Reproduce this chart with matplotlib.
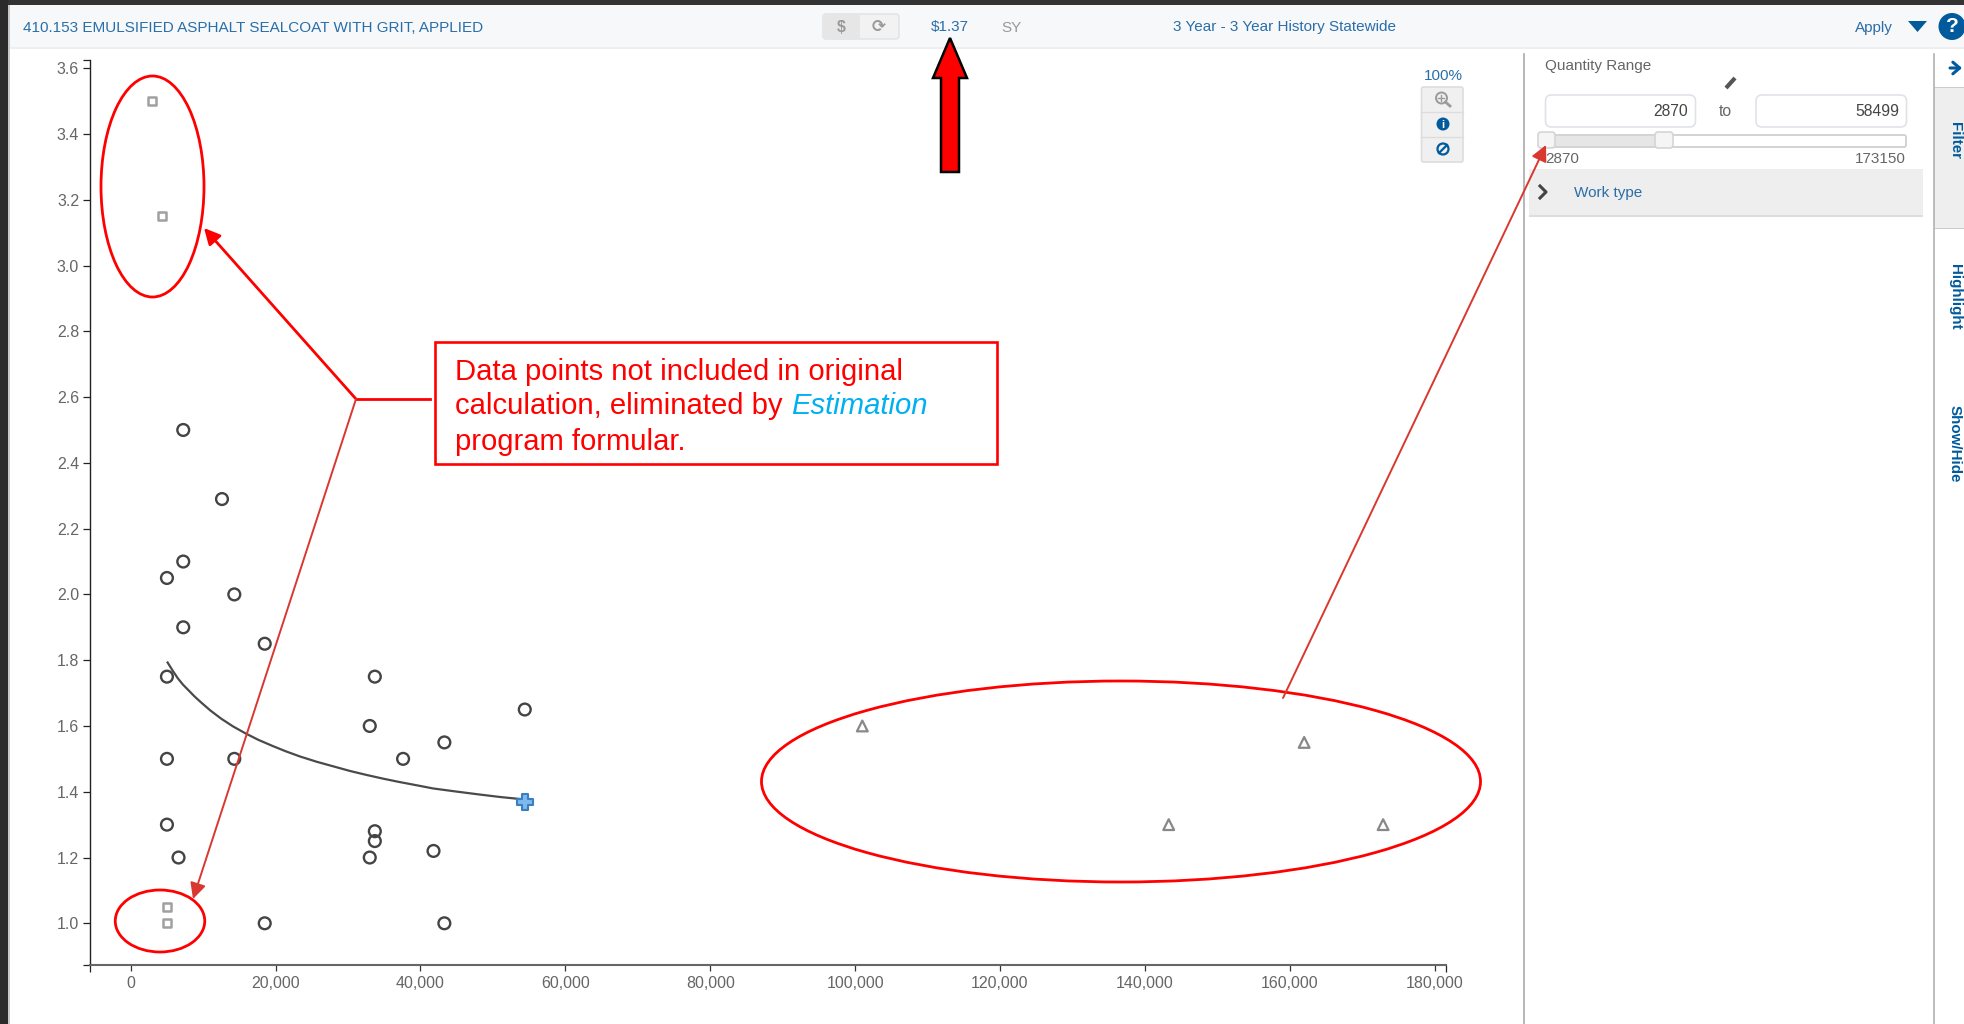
import matplotlib
matplotlib.use("Agg")
import matplotlib.pyplot as plt
from matplotlib.patches import Rectangle, FancyBboxPatch, Ellipse, Circle, Polygon, FancyArrowPatch

plt.rcParams['font.family'] = ['Liberation Sans', 'DejaVu Sans']

# ---------- data ----------
included_x = [7250, 12600, 7250, 5000, 14300, 7250, 18500, 5000, 33700, 33000, 54400, 43300,
              37600, 5000, 14300, 5000, 33700, 33700, 33000, 41800, 6600, 18500, 43300]
included_y = [2.5, 2.29, 2.1, 2.05, 2.0, 1.9, 1.85, 1.75, 1.75, 1.6, 1.65, 1.55,
              1.5, 1.5, 1.5, 1.3, 1.28, 1.25, 1.2, 1.22, 1.2, 1.0, 1.0]
low_qty_x = [2900, 4300, 5000, 5000]
low_qty_y = [3.5, 3.15, 1.05, 1.0]
high_qty_x = [101000, 162000, 143300, 172900]
high_qty_y = [1.6, 1.55, 1.3, 1.3]
curve_x = [5090, 5800, 6500, 7200, 8000, 8800, 9590, 11000, 12500, 14100, 15800, 17600, 19500, 21400, 23400,
           25700, 28000, 30300, 32570, 34800, 37000, 39400, 41750, 44800, 48000, 51000, 54160]
curve_y = [1.793, 1.768, 1.745, 1.726, 1.708, 1.690, 1.674, 1.647, 1.622, 1.599, 1.578, 1.558, 1.54, 1.523, 1.507,
           1.491, 1.477, 1.463, 1.451, 1.44, 1.43, 1.42, 1.41, 1.401, 1.392, 1.384, 1.377]
estimate_x = [54400]
estimate_y = [1.37]
x_ticks = [0, 20000, 40000, 60000, 80000, 100000, 120000, 140000, 160000, 180000]
y_ticks = [1.0, 1.2, 1.4, 1.6, 1.8, 2.0, 2.2, 2.4, 2.6, 2.8, 3.0, 3.2, 3.4, 3.6]

W, H = 1964, 1024
fig = plt.figure(figsize=(W / 100, H / 100), dpi=100, facecolor='white')

def overlay(z):
    a = fig.add_axes([0, 0, 1, 1], zorder=z)
    a.set_xlim(0, W)
    a.set_ylim(H, 0)
    a.axis('off')
    a.patch.set_alpha(0)
    return a

bg = overlay(0)
top = overlay(3)

BLUE = '#2a6ea8'
NAVY = '#005a9c'
GREY = '#666666'
RED = '#ff0000'
DRED = '#d8382f'

def rect(a, x0, y0, x1, y1, fc, ec='none', lw=0, z=1):
    a.add_patch(Rectangle((x0, y0), x1 - x0, y1 - y0, fc=fc, ec=ec, lw=lw, zorder=z))

def rrect(a, x0, y0, x1, y1, fc, ec, lw=1.2, r=5, z=2):
    a.add_patch(FancyBboxPatch((x0 + r, y0 + r), x1 - x0 - 2 * r, y1 - y0 - 2 * r,
                               boxstyle=f'round,pad={r},rounding_size={r}', fc=fc, ec=ec, lw=lw, zorder=z))

def txt(a, x, y, s, size=11, color=BLUE, ha='left', va='center', **kw):
    return a.text(x, y, s, fontsize=size, color=color, ha=ha, va=va, zorder=5, **kw)

# ---------- page chrome ----------
rect(bg, 0, 0, W, 5, '#333333')
rect(bg, 0, 0, 8, H, '#2b2b2b')
rect(bg, 8, 5, 10, H, '#c8c8c8')
rect(bg, 10, 5, W, 47, '#f7f8fa')
rect(bg, 10, 47, W, 49, '#eeeeee')

txt(bg, 23, 27.5, '410.153 EMULSIFIED ASPHALT SEALCOAT WITH GRIT, APPLIED', 10.95)
rrect(bg, 823, 14, 899, 39, '#f2f2f2', '#e4e4e4', r=3)
rect(bg, 823, 14, 860, 39, '#e6e6e6', z=3)
txt(bg, 841, 27, '$', 11.5, '#999999', ha='center', fontweight='bold')
txt(bg, 879, 27, '\u27f3', 12, '#999999', ha='center', family='DejaVu Sans', fontweight='bold')
txt(bg, 950, 26.5, '$1.37', 10.95, BLUE, ha='center')
txt(bg, 1011, 27.5, 'SY', 10.95, '#999999', ha='center')
txt(bg, 1173, 27.5, '3 Year - 3 Year History Statewide', 10.95)
txt(bg, 1855, 28, 'Apply', 10.95)
bg.add_patch(Polygon([(1908, 21), (1927, 21), (1917.5, 32)], fc=NAVY, ec='none', zorder=3))
bg.add_patch(Circle((1952, 26.5), 13.5, fc=NAVY, ec='none', zorder=3))
txt(bg, 1952, 27, '?', 15, 'white', ha='center', fontweight='bold')

# zoom controls
txt(bg, 1443, 76, '100%', 10.95, BLUE, ha='center')
rrect(bg, 1421.5, 87, 1463, 162, '#f0f0f0', '#dddddd', r=2)
bg.plot([1421.5, 1463], [112, 112], color='#dddddd', lw=1, zorder=3)
bg.plot([1421.5, 1463], [137, 137], color='#dddddd', lw=1, zorder=3)
bg.add_patch(Circle((1441.5, 98), 5.5, fc='none', ec='#9a9a9a', lw=1.4, zorder=3))
bg.plot([1445.5, 1450], [102, 106], color='#9a9a9a', lw=2, zorder=3)
bg.plot([1438.5, 1444.5], [98, 98], color='#9a9a9a', lw=1, zorder=3)
bg.plot([1441.5, 1441.5], [95, 101], color='#9a9a9a', lw=1, zorder=3)
bg.add_patch(Circle((1443, 124), 6.5, fc=NAVY, ec='none', zorder=3))
txt(bg, 1443, 124.5, 'i', 8, 'white', ha='center', fontweight='bold')
bg.add_patch(Circle((1443, 149), 5.5, fc='none', ec=NAVY, lw=1.6, zorder=3))
bg.plot([1439, 1447], [153, 145], color=NAVY, lw=1.6, zorder=3)

# side panel
bg.plot([1524.5, 1524.5], [54, H], color='#aaaaaa', lw=1.2, zorder=2)
bg.plot([1934, 1934], [54, H], color='#b5b0b0', lw=1.2, zorder=2)
txt(bg, 1545.5, 66, 'Quantity Range', 10.95, GREY)
bg.plot([1726, 1735], [88, 78], color='#555555', lw=3.0, zorder=3, solid_capstyle='butt')
rrect(bg, 1545.5, 95, 1695.5, 127, 'white', '#dfe3e8', r=6)
rrect(bg, 1756, 95, 1906.5, 127, 'white', '#dfe3e8', r=6)
txt(bg, 1688, 112, '2870', 11.3, '#444444', ha='right')
txt(bg, 1899, 112, '58499', 11.3, '#444444', ha='right')
txt(bg, 1725.5, 112, 'to', 11.3, GREY, ha='center')
rrect(bg, 1540, 135, 1906, 147, 'white', '#cccccc', r=2)
rect(bg, 1545, 136, 1665, 146, '#e6e6e6', z=3)
rrect(bg, 1538, 132, 1555, 148, '#f5f5f5', '#d5d5d5', r=3, z=4)
rrect(bg, 1655, 132, 1673, 148, '#f5f5f5', '#d5d5d5', r=3, z=4)
txt(bg, 1545, 159, '2870', 10.95, GREY)
txt(bg, 1906, 159, '173150', 10.95, GREY, ha='right')
rect(bg, 1529.5, 169, 1923, 215, '#eeeeee')
rect(bg, 1529.5, 215, 1923, 216.5, '#dddddd')
bg.plot([1540, 1546, 1540], [186, 192, 198], color='#444444', lw=2.2, zorder=3)
txt(bg, 1574, 193, 'Work type', 10.95)

# right tabs
rect(bg, 1934.5, 87, W, 228, '#eeeeee')
rect(bg, 1934.5, 87, W, 88, '#cccccc')
rect(bg, 1934.5, 228, W, 229, '#cccccc')
top.annotate('', xy=(1962, 68), xytext=(1950, 68),
             arrowprops=dict(arrowstyle='->,head_length=0.35,head_width=0.3', color=NAVY, lw=2.2,
                             shrinkA=0, shrinkB=0, mutation_scale=14))
for y, s in [(140, 'Filter'), (297, 'Highlight'), (444, 'Show/Hide')]:
    txt(bg, 1955, y, s, 10.9, NAVY, ha='center', rotation=-90, fontweight='bold')

# ---------- chart ----------
X0, X1 = 90.3, 1445.7
YT, YB = 60.0, 964.6
ax = fig.add_axes([X0 / W, 1 - YB / H, (X1 - X0) / W, (YB - YT) / H], zorder=1)
ax.patch.set_alpha(0)
xlim = (-5581, 181540)
ylim = (0.8744, 3.625)
ax.set_xlim(*xlim)
ax.set_ylim(*ylim)
for s in ('top', 'right'):
    ax.spines[s].set_visible(False)
ax.spines['left'].set_color('#222222')
ax.spines['left'].set_linewidth(1.0)
ax.spines['bottom'].set_color('#666666')
ax.spines['bottom'].set_linewidth(1.5)

ax.set_xticks(x_ticks)
ax.set_xticklabels([f'{v:,}' for v in x_ticks])
ax.set_yticks(y_ticks)
ax.set_yticklabels([f'{v:.1f}' for v in y_ticks])
ax.set_xticks(list(xlim), minor=True)
ax.set_yticks(list(ylim), minor=True)
ax.tick_params(axis='x', which='major', length=4.5, width=0.9, color='#333333', pad=3.5, labelsize=11.5, labelcolor=GREY)
ax.tick_params(axis='y', which='major', length=5, width=0.9, color='#222222', pad=3, labelsize=11.5, labelcolor=GREY)
ax.tick_params(axis='both', which='minor', length=5, width=0.9, color='#222222')

ax.plot(curve_x, curve_y, color='#4a4a4a', lw=1.6, zorder=2)
ax.scatter(included_x, included_y, s=72, facecolors='none', edgecolors='#444444', linewidths=1.7, zorder=3)
ax.scatter(low_qty_x, low_qty_y, s=36, marker='s', facecolors='none', edgecolors='#a0a0a0', linewidths=1.8, zorder=3)
ax.scatter(high_qty_x, high_qty_y, s=60, marker='^', facecolors='none', edgecolors='#888888', linewidths=1.6, zorder=3)
ax.scatter(estimate_x, estimate_y, s=135, marker='P', facecolors='#7db8ee', edgecolors='#3a7fc0', linewidths=1.5, zorder=4)

# ---------- annotations ----------
for cx, cy, w, h in [(152.5, 186.5, 103, 221), (160, 921, 89.5, 62), (1121, 781.5, 719, 201)]:
    top.add_patch(Ellipse((cx, cy), w, h, fc='none', ec=RED, lw=2.0, zorder=4))

rect(top, 435, 342, 997, 464, 'white', RED, 1.9, z=4)
txt(top, 455, 371.5, 'Data points not included in original', 21.1, RED)
txt(top, 455, 406.5, 'calculation, eliminated by', 21.1, RED)
txt(top, 791, 406.5, 'Estimation', 21.1, '#00b0f0', style='italic')
txt(top, 455, 442, 'program formular.', 21.1, RED)

top.plot([356, 430], [399, 399], color=RED, lw=2.0, zorder=4)

def arrow(p0, p1, color, lw, scale):
    top.add_patch(FancyArrowPatch(p0, p1, arrowstyle='-|>', mutation_scale=scale, color=color, lw=lw,
                                  shrinkA=0, shrinkB=0, zorder=4))

arrow((356, 399), (204, 228), RED, 2.0, 24)
arrow((356, 399), (193, 899), DRED, 1.4, 24)
arrow((1283, 698), (1546, 145), DRED, 1.4, 24)

# big up arrow beside the price
top.add_patch(Polygon([(950, 38), (967, 78), (959, 78), (959, 172), (941, 172), (941, 78), (933, 78)],
                      fc=RED, ec='black', lw=1.8, zorder=4, joinstyle='miter'))

fig.savefig('out.png', dpi=100, facecolor='white')
